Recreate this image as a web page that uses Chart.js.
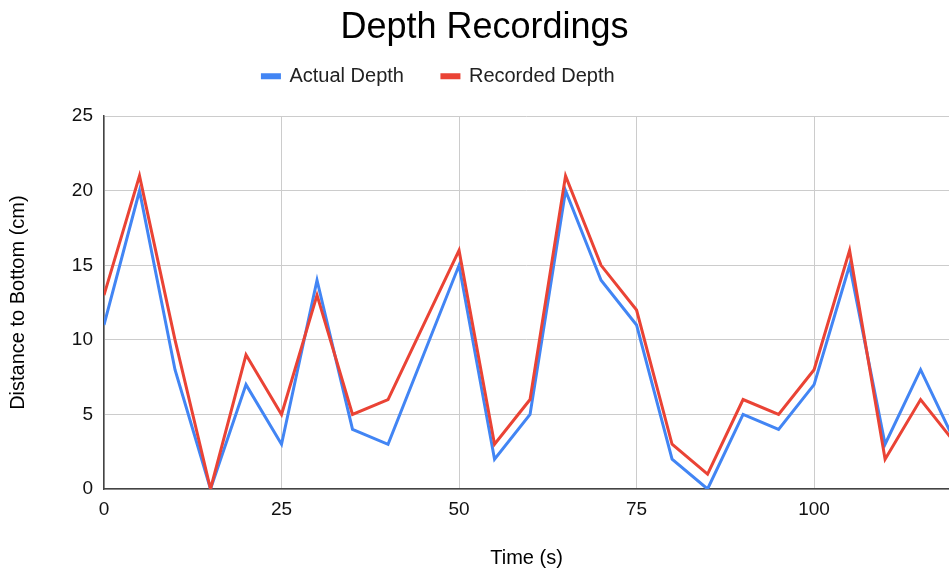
<!DOCTYPE html>
<html>
<head>
<meta charset="utf-8">
<script src="https://cdn.jsdelivr.net/npm/chart.js@4/dist/chart.umd.min.js"></script>
<style>
  html, body { margin: 0; padding: 0; background: #fff; }
  #wrap { width: 949px; height: 575px; }
</style>
</head>
<body>
<div id="wrap"><canvas id="depthChart" width="949" height="575"></canvas></div>
<script>
// readings every 5 s
var times = [0, 5, 10, 15, 20, 25, 30, 35, 40, 45, 50, 55, 60, 65, 70, 75, 80, 85, 90, 95, 100, 105, 110, 115, 120];
var actualDepth = [11, 20, 8, 0, 7, 3, 14, 4, 3, 9, 15, 2, 5, 20, 14, 11, 2, 0, 5, 4, 7, 15, 3, 8, 3];
var recordedDepth = [13, 21, 10, 0, 9, 5, 13, 5, 6, 11, 16, 3, 6, 21, 15, 12, 3, 1, 6, 5, 8, 16, 2, 6, 3];
var xTicks = [0, 25, 50, 75, 100];

var FONT = "'Liberation Sans', Arial, Helvetica, sans-serif";

function toPoints(values) {
    return times.map(function (t, i) { return { x: t, y: values[i] }; });
}

// nudges title / legend to where the original puts them
var layoutTweaks = {
    id: 'layoutTweaks',
    afterInit: function (chart) {
        var legend = chart.legend;
        var fit = legend.fit;
        legend.fit = function () {
            fit.call(this);
            this.height = 60;
        };
    },
    afterLayout: function (chart) {
        var t = chart.titleBlock;
        t.left += 10; t.right += 10;
        var l = chart.legend;
        l.left -= 36; l.right -= 36;
        l.top -= 28; l.bottom -= 28;
    }
};

const ctx = document.getElementById('depthChart').getContext('2d');

var depthChart = new Chart(ctx, {
    type: 'line',
    data: {
        datasets: [
            {
                label: 'Actual Depth',
                data: toPoints(actualDepth),
                borderColor: '#4285F4',
                backgroundColor: '#4285F4',
                borderWidth: 3,
                pointRadius: 0,
                tension: 0,
                order: 1
            },
            {
                label: 'Recorded Depth',
                data: toPoints(recordedDepth),
                borderColor: '#EA4335',
                backgroundColor: '#EA4335',
                borderWidth: 3,
                pointRadius: 0,
                tension: 0,
                order: 0
            }
        ]
    },
    options: {
        responsive: false,
        animation: false,
        layout: { padding: 0 },
        plugins: {
            title: {
                display: true,
                text: 'Depth Recordings',
                color: '#000',
                font: { family: FONT, size: 36, weight: 'normal' },
                padding: { top: 6, bottom: 7 }
            },
            legend: {
                display: true,
                position: 'top',
                labels: {
                    color: '#222',
                    font: { family: FONT, size: 20 },
                    boxWidth: 17,
                    boxHeight: 3,
                    padding: 38,
                    sort: function (a, b) { return a.datasetIndex - b.datasetIndex; }
                }
            },
            tooltip: { enabled: false }
        },
        scales: {
            x: {
                type: 'linear',
                min: 0,
                max: 119,
                afterFit: function (scale) { scale.height = 86; },
                afterBuildTicks: function (scale) {
                    scale.ticks = xTicks.map(function (v) { return { value: v }; });
                },
                ticks: {
                    color: '#111',
                    font: { family: FONT, size: 19 },
                    padding: 9,
                    maxRotation: 0
                },
                grid: { color: '#cccccc', lineWidth: 1, drawTicks: false },
                border: { color: '#444', width: 1.5 },
                title: {
                    display: true,
                    text: 'Time (s)',
                    color: '#000',
                    font: { family: FONT, size: 20 },
                    padding: { top: 0, bottom: 5 }
                }
            },
            y: {
                min: 0,
                max: 25,
                afterFit: function (scale) { scale.width = 104; },
                ticks: {
                    stepSize: 5,
                    color: '#111',
                    font: { family: FONT, size: 19 },
                    padding: 11
                },
                grid: { color: '#cccccc', lineWidth: 1, drawTicks: false },
                border: { color: '#444', width: 1.5 },
                title: {
                    display: true,
                    text: 'Distance to Bottom (cm)',
                    color: '#000',
                    font: { family: FONT, size: 20 },
                    padding: { top: 6, bottom: 5 }
                }
            }
        }
    },
    plugins: [layoutTweaks]
});
</script>
</body>
</html>
